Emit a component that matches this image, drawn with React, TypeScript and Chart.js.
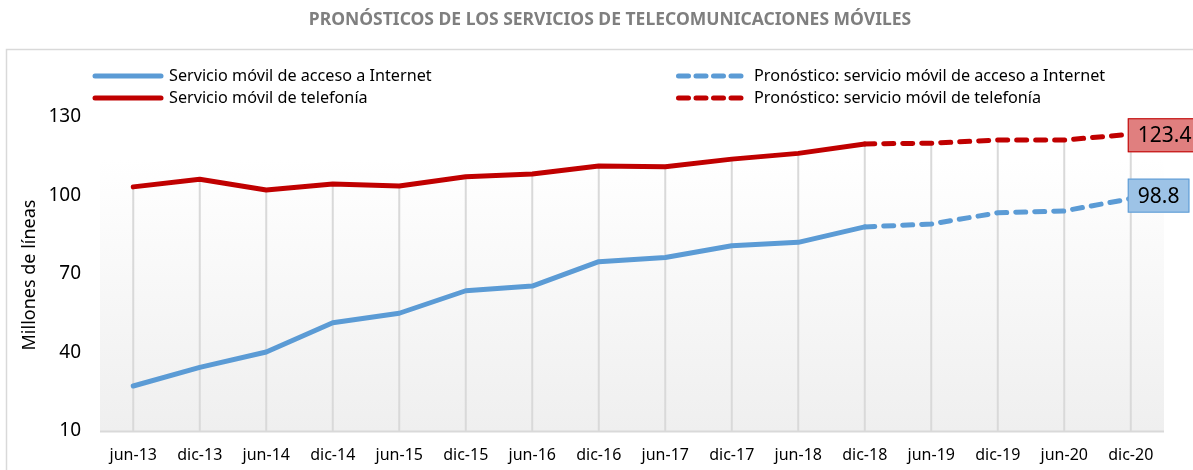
import React, { useEffect, useRef } from "react";
import { Chart, registerables } from "chart.js";

Chart.register(...registerables);

const categories = ["jun-13", "dic-13", "jun-14", "dic-14", "jun-15", "dic-15", "jun-16", "dic-16", "jun-17", "dic-17", "jun-18", "dic-18", "jun-19", "dic-19", "jun-20", "dic-20"];
const internet = [27.2, 34.3, 40.2, 51.4, 55.0, 63.6, 65.4, 74.7, 76.3, 80.8, 82.1, 88.0, null, null, null, null];
const internetForecast = [null, null, null, null, null, null, null, null, null, null, null, 88.0, 89.1, 93.4, 94.1, 98.8];
const telefonia = [103.3, 106.2, 102.1, 104.4, 103.6, 107.2, 108.2, 111.3, 111.0, 113.9, 116.1, 119.7, null, null, null, null];
const telefoniaForecast = [null, null, null, null, null, null, null, null, null, null, null, 119.7, 120.0, 121.2, 121.2, 123.4];
const yTicks = [10, 40, 70, 100, 130];

const TITLE = "PRONÓSTICOS DE LOS SERVICIOS DE TELECOMUNICACIONES MÓVILES";
const Y_TITLE = "Millones de líneas";
const SERIES_NAMES = [
  "Servicio móvil de acceso a Internet",
  "Servicio móvil de telefonía",
  "Pronóstico: servicio móvil de acceso a Internet",
  "Pronóstico: servicio móvil de telefonía",
];

const BLUE = "#5b9bd5";
const RED = "#c00000";
const FONT = "'Noto Sans', 'Open Sans', sans-serif";

const decorPlugin = {
  id: "decor",
  beforeDraw(chart: any) {
    const { ctx, chartArea } = chart;
    ctx.save();
    ctx.fillStyle = "#ffffff";
    ctx.fillRect(0, 0, chart.width, chart.height);
    // frame
    ctx.strokeStyle = "#d9d9d9";
    ctx.lineWidth = 1.5;
    ctx.beginPath();
    ctx.moveTo(6.5, chart.height + 2);
    ctx.lineTo(6.5, 49.5);
    ctx.lineTo(chart.width + 2, 49.5);
    ctx.stroke();
    // plot area gradient
    const top = 160;
    const g = ctx.createLinearGradient(0, top, 0, chartArea.bottom);
    g.addColorStop(0, "#ffffff");
    g.addColorStop(1, "#efefef");
    ctx.fillStyle = g;
    ctx.fillRect(chartArea.left, top, chartArea.right - chartArea.left, chartArea.bottom - top);
    // title
    ctx.fillStyle = "#7f7f7f";
    ctx.font = `bold 17.5px ${FONT}`;
    ctx.textAlign = "center";
    ctx.textBaseline = "middle";
    ctx.fillText(TITLE, 610, 20);
    ctx.restore();
  },
  beforeDatasetsDraw(chart: any) {
    const { ctx, chartArea } = chart;
    const xs = chart.scales.x;
    const ys = chart.scales.y;
    ctx.save();
    ctx.strokeStyle = "#d9d9d9";
    ctx.lineWidth = 2;
    const all = chart.data.datasets.map((d: any) => d.data);
    for (let i = 0; i < categories.length; i++) {
      let mx = -Infinity;
      all.forEach((arr: any[]) => {
        if (arr[i] != null && arr[i] > mx) mx = arr[i];
      });
      if (mx === -Infinity) continue;
      const x = xs.getPixelForValue(i);
      ctx.beginPath();
      ctx.moveTo(x, ys.getPixelForValue(mx));
      ctx.lineTo(x, chartArea.bottom);
      ctx.stroke();
    }
    ctx.lineWidth = 2;
    ctx.beginPath();
    ctx.moveTo(chartArea.left, chartArea.bottom + 0.5);
    ctx.lineTo(chartArea.right, chartArea.bottom + 0.5);
    ctx.stroke();
    ctx.restore();
  },
  afterDraw(chart: any) {
    const { ctx } = chart;
    const xs = chart.scales.x;
    const ys = chart.scales.y;
    ctx.save();
    // y title
    ctx.fillStyle = "#000";
    ctx.font = `18px ${FONT}`;
    ctx.textAlign = "center";
    ctx.textBaseline = "middle";
    ctx.translate(30, 275);
    ctx.rotate(-Math.PI / 2);
    ctx.fillText(Y_TITLE, 0, 0);
    ctx.setTransform(1, 0, 0, 1, 0, 0);

    // legend
    const items = [
      { x: 93, y: 76, color: BLUE, dash: false, text: SERIES_NAMES[0] },
      { x: 93, y: 98, color: RED, dash: false, text: SERIES_NAMES[1] },
      { x: 676, y: 76, color: BLUE, dash: true, text: SERIES_NAMES[2] },
      { x: 676, y: 98, color: RED, dash: true, text: SERIES_NAMES[3] },
    ];
    ctx.font = `16.2px ${FONT}`;
    ctx.textAlign = "left";
    items.forEach((it) => {
      ctx.strokeStyle = it.color;
      ctx.lineWidth = 5;
      ctx.lineCap = "round";
      if (it.dash) {
        ctx.setLineDash([10, 7.5]);
        ctx.beginPath();
        ctx.moveTo(it.x + 2.5, it.y);
        ctx.lineTo(it.x + 68, it.y);
        ctx.stroke();
        ctx.setLineDash([]);
      } else {
        ctx.beginPath();
        ctx.moveTo(it.x + 2, it.y);
        ctx.lineTo(it.x + 68, it.y);
        ctx.stroke();
      }
      ctx.fillStyle = "#000";
      ctx.fillText(it.text, it.dash ? it.x + 78 : it.x + 76, it.y);
    });

    // value labels
    const last = categories.length - 1;
    const labels = [
      { v: telefoniaForecast[last] as number, fill: "#e07f7f", stroke: RED, dy: 1 },
      { v: internetForecast[last] as number, fill: "#9dc3e6", stroke: BLUE, dy: -3 },
    ];
    ctx.font = `21px ${FONT}`;
    labels.forEach((l) => {
      const x = xs.getPixelForValue(last);
      const y = ys.getPixelForValue(l.v) + l.dy;
      const txt = l.v.toFixed(1);
      const w = ctx.measureText(txt).width + 20;
      const h = 34;
      const bx = x - 3;
      ctx.fillStyle = l.fill;
      ctx.fillRect(bx, y - h / 2, w, h);
      ctx.strokeStyle = l.stroke;
      ctx.lineWidth = 1;
      ctx.strokeRect(bx + 0.5, y - h / 2 + 0.5, w - 1, h - 1);
      ctx.fillStyle = "#000";
      ctx.textAlign = "left";
      ctx.textBaseline = "middle";
      ctx.fillText(txt, bx + 10, y + 1);
    });
    ctx.restore();
  },
};

export default function App() {
  const ref = useRef<HTMLCanvasElement | null>(null);
  useEffect(() => {
    if (!ref.current) return;
    const mk = (label: string, data: any[], color: string, dashed: boolean) => ({
      label,
      data,
      borderColor: color,
      backgroundColor: color,
      borderWidth: 5,
      borderDash: dashed ? [10, 9] : [],
      borderCapStyle: "round" as const,
      borderJoinStyle: "round" as const,
      pointRadius: 0,
      pointHoverRadius: 0,
      tension: 0,
      spanGaps: false,
      fill: false,
    });
    const chart = new Chart(ref.current, {
      type: "line",
      data: {
        labels: categories,
        datasets: [
          mk(SERIES_NAMES[0], internet, BLUE, false),
          mk(SERIES_NAMES[1], telefonia, RED, false),
          mk(SERIES_NAMES[2], internetForecast, BLUE, true),
          mk(SERIES_NAMES[3], telefoniaForecast, RED, true),
        ],
      },
      options: {
        animation: false,
        responsive: false,
        maintainAspectRatio: false,
        layout: { padding: { top: 117, right: 29, left: 0, bottom: 0 } },
        plugins: {
          legend: { display: false },
          title: { display: false },
          tooltip: { enabled: false },
        },
        scales: {
          x: {
            type: "category",
            offset: true,
            grid: { display: false, drawTicks: false },
            border: { display: false },
            ticks: {
              color: "#000",
              font: { family: FONT, size: 16 },
              padding: 15,
              maxRotation: 0,
              autoSkip: false,
            },
            afterFit: (s: any) => {
              s.height = 39;
            },
          },
          y: {
            min: 10,
            max: 130,
            grid: { display: false, drawTicks: false },
            border: { display: false },
            afterBuildTicks: (s: any) => {
              s.ticks = yTicks.map((v) => ({ value: v }));
            },
            ticks: {
              color: "#000",
              font: { family: FONT, size: 19 },
              padding: 19,
            },
            afterFit: (s: any) => {
              s.width = 100;
            },
          },
        },
      },
      plugins: [decorPlugin],
    });
    return () => chart.destroy();
  }, []);
  return (
    <div style={{ position: "absolute", left: 0, top: 0, width: 1193, height: 470 }}>
      <canvas ref={ref} width={1193} height={470} style={{ display: "block" }} />
    </div>
  );
}
